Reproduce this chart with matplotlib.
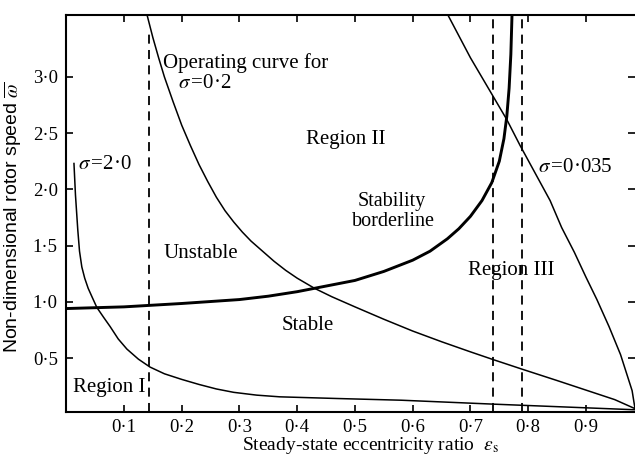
import numpy as np
import matplotlib
matplotlib.use('Agg')
import matplotlib.pyplot as plt

plt.rcParams['font.family'] = ['Liberation Serif', 'DejaVu Serif']
plt.rcParams['mathtext.fontset'] = 'stix'

# stability borderline (thick curve)
border_x = [0.0, 0.1, 0.2, 0.3, 0.35, 0.4, 0.45, 0.5, 0.55, 0.6, 0.63, 0.66, 0.68,
            0.70, 0.72, 0.737, 0.75, 0.758, 0.763, 0.767, 0.770, 0.772]
border_y = [0.94, 0.955, 0.985, 1.02, 1.05, 1.09, 1.14, 1.19, 1.27, 1.37, 1.45, 1.56, 1.65,
            1.76, 1.90, 2.06, 2.25, 2.45, 2.65, 2.9, 3.2, 3.55]

# operating curve sigma = 0.2
op02_x = [0.140, 0.150, 0.160, 0.170, 0.185, 0.200, 0.215, 0.230, 0.245, 0.260,
          0.275, 0.290, 0.305, 0.320, 0.340, 0.360, 0.380, 0.400, 0.430, 0.460,
          0.500, 0.550, 0.600, 0.650, 0.700, 0.740, 0.790, 0.850, 0.900, 0.950, 0.985]
op02_y = [3.55, 3.35, 3.17, 3.00, 2.78, 2.57, 2.39, 2.22, 2.07, 1.93,
          1.81, 1.71, 1.62, 1.54, 1.45, 1.36, 1.28, 1.21, 1.12, 1.045,
          0.955, 0.845, 0.74, 0.645, 0.555, 0.485, 0.40, 0.30, 0.215, 0.13, 0.05]

# operating curve sigma = 2.0
op20_x = [0.0134, 0.016, 0.020, 0.023, 0.027, 0.032, 0.038, 0.045, 0.053, 0.065,
          0.076, 0.090, 0.105, 0.125, 0.145, 0.17, 0.20, 0.23, 0.26, 0.29,
          0.33, 0.37, 0.47, 0.58, 0.74, 0.985]
op20_y = [2.23, 1.95, 1.64, 1.45, 1.31, 1.21, 1.12, 1.04, 0.95, 0.86,
          0.78, 0.67, 0.58, 0.49, 0.42, 0.36, 0.31, 0.265, 0.225, 0.195,
          0.17, 0.155, 0.14, 0.125, 0.09, 0.04]

# operating curve sigma = 0.035
op0035_x = [0.661, 0.70, 0.763, 0.786, 0.838, 0.858, 0.88, 0.90, 0.919, 0.94, 0.96, 0.98, 0.985]
op0035_y = [3.55, 3.17, 2.62, 2.39, 1.90, 1.66, 1.44, 1.22, 1.02, 0.78, 0.53, 0.21, 0.05]

# dashed verticals
dash_x = [0.143, 0.739, 0.789]
dash_top = [3.39, 3.55, 3.55]

xticks = [0.1, 0.2, 0.3, 0.4, 0.5, 0.6, 0.7, 0.8, 0.9]
xtick_labels = ['0·1', '0·2', '0·3', '0·4', '0·5', '0·6', '0·7', '0·8', '0·9']
yticks = [0.5, 1.0, 1.5, 2.0, 2.5, 3.0]
ytick_labels = ['0·5', '1·0', '1·5', '2·0', '2·5', '3·0']

fig = plt.figure(figsize=(6.35, 4.58), dpi=100)
ax = fig.add_axes([0.1043, 0.1004, 0.8957, 0.8668])

ax.plot(border_x, border_y, color='black', lw=2.1)
ax.plot(op02_x, op02_y, color='black', lw=1.1)
ax.plot(op20_x, op20_y, color='black', lw=1.1)
ax.plot(op0035_x, op0035_y, color='black', lw=1.1)
ax.vlines(dash_x, 0.02, dash_top, colors='black', lw=1.3, linestyles=(0, (5, 3.5)))

ax.set_xlim(0, 0.985)
ax.set_ylim(0.02, 3.55)

ax.set_xticks(xticks, labels=xtick_labels)
ax.set_yticks(yticks, labels=ytick_labels)
ax.tick_params(direction='in', length=5, width=1.2, labelsize=13.5,
               top=True, right=True, pad=6)
ax.tick_params(axis='x', pad=5)
ax.spines['right'].set_visible(False)
for s in ['left', 'bottom', 'top']:
    ax.spines[s].set_linewidth(1.5)

ax.set_xlabel(r'Steady-state eccentricity ratio  $\varepsilon_{\rm s}$', fontsize=14)
ax.xaxis.set_label_coords(0.534, -0.057)
ax.set_ylabel(r'Non-dimensional rotor speed $\overline{\omega}$', fontsize=14,
              family='Liberation Sans')
ax.yaxis.set_label_coords(-0.074, 0.49)

fs = 15
ax.text(0.168, 3.12, 'Operating curve for', fontsize=fs, va='center')
ax.text(0.193, 2.94, r'$\sigma\,$=0·2', fontsize=fs, va='center')
ax.text(0.020, 2.22, r'$\sigma\,$=2·0', fontsize=fs, va='center')
ax.text(0.416, 2.44, 'Region II', fontsize=fs, va='center')
ax.text(0.505, 1.89, 'Stability', fontsize=14.5, va='center')
ax.text(0.495, 1.71, 'borderline', fontsize=14.5, va='center')
ax.text(0.817, 2.19, r'$\sigma\,$=0·035', fontsize=fs, va='center')
ax.text(0.168, 1.43, 'Unstable', fontsize=fs, va='center')
ax.text(0.373, 0.79, 'Stable', fontsize=fs, va='center')
ax.text(0.012, 0.24, 'Region I', fontsize=fs, va='center')
ax.text(0.695, 1.28, 'Region III', fontsize=fs, va='center')

fig.savefig('out.png', dpi=100)
